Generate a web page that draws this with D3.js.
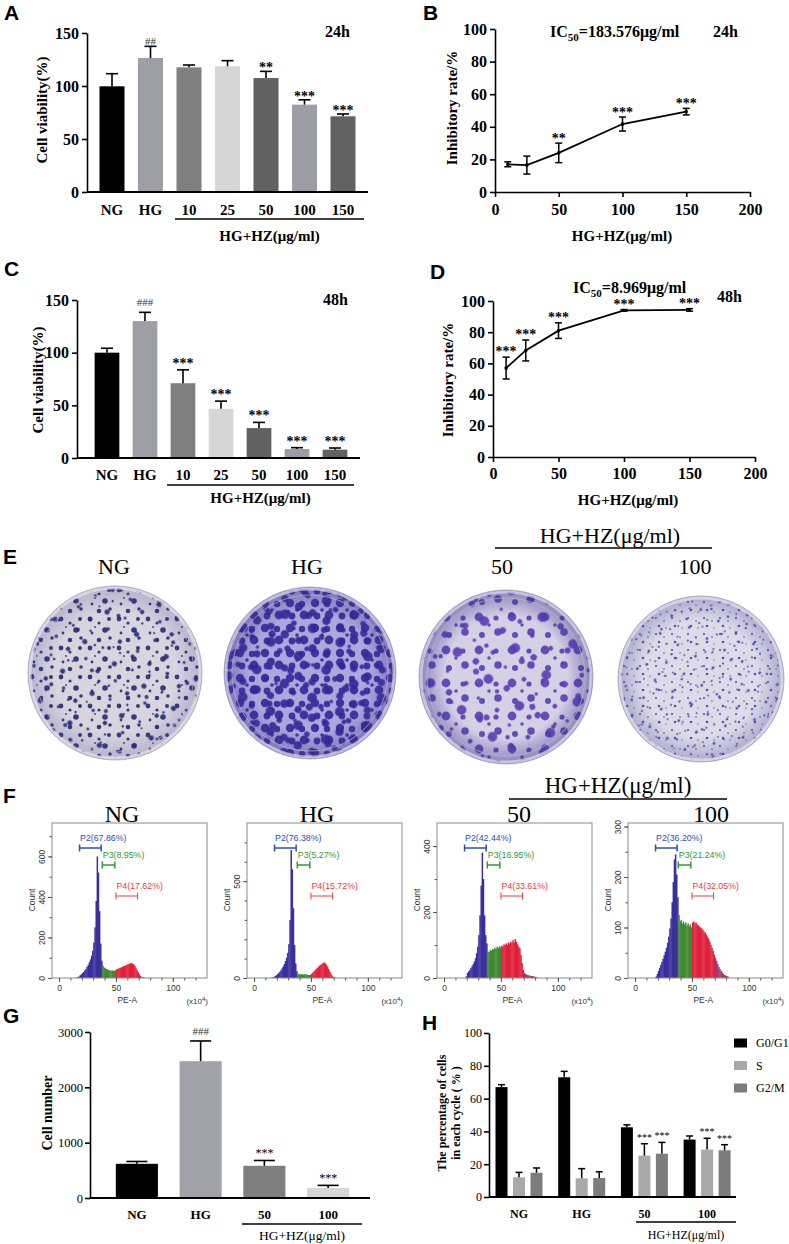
<!DOCTYPE html>
<html><head><meta charset="utf-8">
<script src="https://cdn.jsdelivr.net/npm/d3@7"></script>
<style>body{margin:0;background:#fff}svg{display:block}</style>
</head><body>
<svg id="c" width="789" height="1244"></svg>
<script>
// ---------------- DATA ----------------
const viabCats = ["NG","HG","10","25","50","100","150"];
const viab24 = [99.7,126.4,117.6,118.6,107.5,82.4,71.4];
const viab24Err = [11.9,11,2.2,5.3,6.3,4.6,2.2];
const viab24Sig = ["","##","","","**","***","***"];
const viab48 = [100,130,71,46.7,28.4,8.5,7.9];
const viab48Err = [4.2,8.3,12.7,7.3,5.4,1.3,1.6];
const viab48Sig = ["","###","***","***","***","***","***"];
const yTicksViab = [0,50,100,150];

const doses = [10,25,50,100,150];
const inhib24 = [17,16.5,24,41.7,49.3];
const inhib24Err = [1.5,5.5,6,4.3,2];
const inhib24Sig = ["","","**","***","***"];
const inhib48 = [57,68.3,81,94,94.3];
const inhib48Err = [7,6.7,5,0.5,0.8];
const inhib48Sig = ["***","***","***","***","***"];
const yTicksInhib = [0,20,40,60,80,100];
const xTicksDose = [0,50,100,150,200];

const dishTitles = ["NG","HG","50","100"];

const fcsTitles = ["NG","HG","50","100"];
const fcsBinStart = 14;
const fcsNG = [0,3,5,8,14,18,24,30,38,45,
  55,65,78,92,110,135,175,250,380,600,
  520,330,170,85,60,52,48,44,42,40,
  38,36,38,35,36,38,42,45,48,50,
  52,55,58,60,62,66,68,70,72,75,
  70,68,60,50,38,28,18,10,5,3,
  2,1,0,0,0,0,0,0,0,0,0,0];
const fcsHG = [0,2,4,6,10,14,19,25,32,40,
  50,60,72,88,105,130,175,300,660,560,
  360,170,75,35,22,20,18,20,19,18,
  20,19,17,16,15,17,22,28,34,40,
  46,52,58,64,68,72,78,80,76,68,
  58,46,34,22,12,6,3,1,0,0,
  0,0,0,0,0,0,0,0,0,0,0,0];
const fcs50 = [0,0,0,0,0,5,15,20,24,30,
  36,42,50,60,75,95,130,190,280,380,
  300,190,130,105,80,78,85,82,88,86,
  92,88,95,90,96,92,98,95,102,100,
  105,100,108,104,110,106,115,108,118,110,
  102,95,90,70,45,25,15,12,10,9,
  8,7,6,6,5,4,3,2,0,0,0,0];
const fcs100 = [0,0,0,0,3,8,14,20,26,32,
  38,45,52,60,70,82,98,118,150,190,
  235,245,205,160,125,112,115,108,112,106,
  110,104,108,102,106,100,110,112,108,110,
  106,104,102,100,98,95,92,90,86,82,
  78,72,66,60,54,46,40,34,28,22,
  18,14,11,8,6,5,4,3,0,0,0,0];
const fcsCounts = [fcsNG,fcsHG,fcs50,fcs100];
const fcsYmax = [765,800,470,307];
const fcsYMajor = [[0,200,400,600],[0,500],[0,200,400],[0,100,200,300]];
const fcsYMinorStep = [100,100,100,50];
const fcsXMajor = [0,50,100];
const gateNames = ["P2","P3","P4"];
const gateLo = [18,38,50];
const gateHi = [37,49,69];
const gatePct = [["67.86","76.38","42.44","36.20"],["8.95","5.27","16.95","21.24"],["17.62","15.72","33.61","32.05"]];

const gCats = ["NG","HG","50","100"];
const gVals = [618,2472,582,180];
const gErr = [42,366,96,48];
const gSig = ["","###","***","***"];
const gTicks = [0,1000,2000,3000];

const hGroups = ["NG","HG","50","100"];
const hSeries = ["G0/G1","S","G2/M"];
const hVals = [[67,73,42.5,35],[12,11.4,25.2,28.9],[14.8,11.6,26.4,28.5]];
const hErr = [[1.5,3.6,1.5,2.2],[3,5.9,7.3,6.9],[2.9,3.8,6.9,3.4]];
const hSig = [["","","",""],["","","***","***"],["","","***","***"]];
const hTicks = [0,20,40,60,80,100];

const groupLabel = "HG+HZ(μg/ml)";

// ---------------- STYLE ----------------
const serif = "'Liberation Serif','Times New Roman',Times,serif";
const sans = "'Liberation Sans',Arial,Helvetica,sans-serif";
const viabColors = ["#000000","#9e9ea6","#808080","#d6d6d6","#616161","#9d9da5","#626262"];
const gColors = ["#000000","#a1a1a9","#7f7f7f","#d6d6d6"];
const hColors = ["#000000","#a9a9a9","#7c7c7c"];
const gateColors = ["#2b4fb8","#2f9a3a","#ee3a3c"];

const svg = d3.select("#c");
svg.append("rect").attr("width",789).attr("height",1244).attr("fill","#fff");
const defs = svg.append("defs");

function txt(x,y,s,o={}){
  const t = svg.append("text").attr("x",x).attr("y",y).text(s)
    .attr("font-family",o.ff||serif).attr("font-size",o.fs||15)
    .attr("font-weight",o.fw||"normal").attr("text-anchor",o.anchor||"start")
    .attr("fill",o.fill||"#000");
  if(o.rot!=null) t.attr("transform",`rotate(${o.rot},${x},${y})`);
  return t;
}
function styleAxis(sel,fs,fw,sw){
  sel.attr("font-family",serif);
  sel.selectAll("text").attr("font-family",serif).attr("font-size",fs).attr("font-weight",fw).attr("fill","#000");
  sel.selectAll("line").attr("stroke","#000").attr("stroke-width",sw||1.6);
  sel.select(".domain").attr("stroke","#000").attr("stroke-width",sw||1.6);
}
function letter(t,x,y){ txt(x,y,t,{ff:sans,fw:"bold",fs:21}); }
function sigMark(x,errY,s,o){
  if(!s) return;
  if(s[0]==="#") txt(x,errY+o.hashB,s,{fs:o.hashFs||11,anchor:"middle",fill:"#333"});
  else txt(x,errY+o.starB,s,{fs:o.starFs||14,fw:o.starFw||"bold",anchor:"middle",fill:"#000"});
}

// ---------------- A / C ----------------
function viabChart(o){
  const x = d3.scaleBand().domain(viabCats).range(o.xr).paddingInner(0.35).paddingOuter(0.175);
  const y = d3.scaleLinear().domain([0,150]).range([o.y0,o.y150]);
  const bw = x.bandwidth();
  const g = svg.append("g");
  g.selectAll("rect").data(o.vals).join("rect")
    .attr("x",(d,i)=>x(viabCats[i])).attr("y",d=>y(d)).attr("width",bw)
    .attr("height",d=>y(0)-y(d)).attr("fill",(d,i)=>viabColors[i]);
  const cx = i=>x(viabCats[i])+bw/2;
  g.selectAll("line.eb").data(o.vals).join("line").attr("class","eb")
    .attr("x1",(d,i)=>cx(i)).attr("x2",(d,i)=>cx(i))
    .attr("y1",d=>y(d)).attr("y2",(d,i)=>y(d+o.errs[i])).attr("stroke","#000").attr("stroke-width",1.6);
  g.selectAll("line.cap").data(o.vals).join("line").attr("class","cap")
    .attr("x1",(d,i)=>cx(i)-6).attr("x2",(d,i)=>cx(i)+6)
    .attr("y1",(d,i)=>y(d+o.errs[i])).attr("y2",(d,i)=>y(d+o.errs[i])).attr("stroke","#000").attr("stroke-width",1.6);
  o.vals.forEach((d,i)=>sigMark(cx(i),y(d+o.errs[i]),o.sig[i],o));
  const ya = g.append("g").attr("transform",`translate(${o.ax},0)`)
    .call(d3.axisLeft(y).tickValues(yTicksViab).tickSize(5).tickSizeOuter(0).tickPadding(3));
  styleAxis(ya,16,"bold");
  const xa = g.append("g").attr("transform",`translate(0,${o.y0})`)
    .call(d3.axisBottom(x).tickSize(0).tickPadding(o.xpad));
  xa.select(".domain").remove();
  styleAxis(xa,15,"bold");
  g.append("line").attr("x1",o.ax).attr("x2",o.xEnd).attr("y1",o.y0).attr("y2",o.y0).attr("stroke","#000").attr("stroke-width",1.8);
  g.append("line").attr("x1",o.ul[0]).attr("x2",o.ul[1]).attr("y1",o.ulY).attr("y2",o.ulY).attr("stroke","#000").attr("stroke-width",1.5);
  txt((o.ul[0]+o.ul[1])/2,o.grpY,groupLabel,{fs:15,fw:"bold",anchor:"middle"});
  txt(o.title[0],o.title[1],"Cell viability(%)",{fs:15,fw:"bold",anchor:"middle",rot:-90});
  txt(o.time[0],o.time[1],o.timeText,{fs:16,fw:"bold"});
}
viabChart({vals:viab24,errs:viab24Err,sig:viab24Sig,xr:[92.75,362.25],y0:192,y150:33,ax:87,xEnd:368,
  ul:[175,364],ulY:219,grpY:241,xpad:12,starB:1,hashB:-1,title:[47,110],time:[325,37],timeText:"24h"});
viabChart({vals:viab48,errs:viab48Err,sig:viab48Sig,xr:[88,354],y0:458,y150:300,ax:77,xEnd:360,
  ul:[167,354],ulY:485,grpY:503,xpad:11,starB:-2,hashB:-6,title:[43,380],time:[323,305],timeText:"48h"});

// ---------------- B / D ----------------
function inhibChart(o){
  const x = d3.scaleLinear().domain([0,200]).range(o.xr);
  const y = d3.scaleLinear().domain([0,100]).range([o.y0,o.y100]);
  const g = svg.append("g");
  const ya = g.append("g").attr("transform",`translate(${o.xr[0]},0)`)
    .call(d3.axisLeft(y).tickValues(yTicksInhib).tickSize(5).tickSizeOuter(0).tickPadding(3));
  styleAxis(ya,16,"bold");
  const xa = g.append("g").attr("transform",`translate(0,${o.y0})`)
    .call(d3.axisBottom(x).tickValues(xTicksDose).tickSize(5).tickSizeOuter(0).tickPadding(o.xpad));
  styleAxis(xa,16,"bold");
  g.append("path").datum(o.vals).attr("fill","none").attr("stroke","#000").attr("stroke-width",1.8)
    .attr("d",d3.line().x((d,i)=>x(doses[i])).y(d=>y(d)));
  o.vals.forEach((d,i)=>{
    const px = x(doses[i]), lo=y(d-o.errs[i]), hi=y(d+o.errs[i]);
    g.append("line").attr("x1",px).attr("x2",px).attr("y1",lo).attr("y2",hi).attr("stroke","#000").attr("stroke-width",1.5);
    [lo,hi].forEach(yy=>g.append("line").attr("x1",px-3.5).attr("x2",px+3.5).attr("y1",yy).attr("y2",yy).attr("stroke","#000").attr("stroke-width",1.5));
    g.append("rect").attr("x",px-1.5).attr("y",y(d)-1.5).attr("width",3).attr("height",3).attr("fill","#000");
    sigMark(px,hi,o.sig[i],o);
  });
  txt(o.grpX,o.grpY,groupLabel,{fs:15,fw:"bold",anchor:"middle"});
  txt(o.title[0],o.title[1],"Inhibitory rate/%",{fs:15,fw:"bold",anchor:"middle",rot:-90});
  const ic = txt(o.ic[0],o.ic[1],"IC",{fs:16,fw:"bold"});
  ic.append("tspan").attr("font-size",11).attr("dy",4).text("50");
  ic.append("tspan").attr("dy",-4).text(o.icText);
  txt(o.time[0],o.time[1],o.timeText,{fs:16,fw:"bold"});
}
inhibChart({vals:inhib24,errs:inhib24Err,sig:inhib24Sig,xr:[495,750],y0:192,y100:29,xpad:7,
  grpX:622,grpY:241,title:[457,108],ic:[550,37],icText:"=183.576μg/ml",time:[713,37],timeText:"24h",starB:0,hashB:0});
inhibChart({vals:inhib48,errs:inhib48Err,sig:inhib48Sig,xr:[493,755],y0:457,y100:301,xpad:6,
  grpX:628,grpY:505,title:[453,380],ic:[573,293],icText:"=8.969μg/ml",time:[717,302],timeText:"48h",starB:-1,hashB:0});

letter("A",4,20); letter("B",423,20); letter("C",4,276); letter("D",430,279);

// ---------------- E (colony dishes) ----------------
const dishLayout = [{cx:115,cy:673,r:87},{cx:310,cy:673,r:86},{cx:506,cy:677,r:87},{cx:701,cy:679,r:83}];
const dishStyle = [
  {bg:"#d8d5de",col:"#262a74",vig:0.22,tiles:[
    {s:29,rot:0,dots:[[4,4,2.4],[13,8,1.6],[23,4,2],[19,15,2.8],[6,18,1.4],[24,23,1.8],[13,25,2.3],[9,12,0.9]]},
    {s:37,rot:37,dots:[[5,6,1.8],[22,9,2.2],[12,24,1.5],[31,30,2.6],[29,18,1.2]]},
    {s:43,rot:71,dots:[[10,10,1.3],[33,21,2.0],[18,36,1.1]]}]},
  {bg:"#aea7da",col:"#33279a",vig:0.45,tiles:[
    {s:25,rot:0,dots:[[5,5,4.2],[17,6,3.2],[19,17,4.4],[7,18,3.4],[12,12,1.8]]},
    {s:31,rot:27,dots:[[6,7,3.6],[22,8,4.2],[13,21,4.8],[25,25,2.8]]},
    {s:41,rot:63,dots:[[9,9,3.0],[30,16,3.6],[18,33,2.4],[35,35,1.8]]}]},
  {bg:"#d5d1e4",col:"#5a3cb6",vig:0.5,tiles:[
    {s:33,rot:0,dots:[[6,6,4.4],[23,7,2.6],[25,21,3.8],[9,24,3],[16,14,1.8]]},
    {s:41,rot:41,dots:[[8,8,3.2],[29,13,4.8],[15,31,2.4],[34,34,1.8]]},
    {s:47,rot:77,dots:[[12,12,2.2],[35,28,3.0]]}]},
  {bg:"#dddbe7",col:"#4e42aa",vig:0.3,tiles:[
    {s:16,rot:0,dots:[[3,3,1.1],[11,6,0.8],[6,11,1.3],[13,13,0.7]]},
    {s:21,rot:33,dots:[[4,5,1.4],[15,10,0.9],[10,17,1.1]]},
    {s:27,rot:68,dots:[[6,6,0.9],[20,18,1.2]]}]}
];
dishLayout.forEach((L,i)=>{
  const st = dishStyle[i];
  const g = svg.append("g");
  g.append("circle").attr("cx",L.cx).attr("cy",L.cy).attr("r",L.r).attr("fill",st.bg);
  st.tiles.forEach((t,k)=>{
    const id = `pat${i}_${k}`;
    const p = defs.append("pattern").attr("id",id).attr("patternUnits","userSpaceOnUse")
      .attr("width",t.s).attr("height",t.s).attr("patternTransform",`translate(${L.cx},${L.cy}) rotate(${t.rot})`);
    p.selectAll("circle").data(t.dots).join("circle").attr("cx",d=>d[0]).attr("cy",d=>d[1]).attr("r",d=>d[2]).attr("fill",st.col).attr("opacity",0.9);
    g.append("circle").attr("cx",L.cx).attr("cy",L.cy).attr("r",L.r-2).attr("fill",`url(#${id})`);
  });
  const gid = `vig${i}`;
  const rg = defs.append("radialGradient").attr("id",gid);
  rg.append("stop").attr("offset","0.7").attr("stop-color","#3c3290").attr("stop-opacity",0);
  rg.append("stop").attr("offset","1").attr("stop-color","#3c3290").attr("stop-opacity",st.vig);
  g.append("circle").attr("cx",L.cx).attr("cy",L.cy).attr("r",L.r).attr("fill",`url(#${gid})`);
  g.append("circle").attr("cx",L.cx).attr("cy",L.cy).attr("r",L.r-2).attr("fill","none").attr("stroke","#eeedf2").attr("stroke-width",3).attr("opacity",0.6);
  g.append("circle").attr("cx",L.cx).attr("cy",L.cy).attr("r",L.r-8).attr("fill","none").attr("stroke","#bcb8c8").attr("stroke-width",1).attr("opacity",0.7);
  g.append("circle").attr("cx",L.cx).attr("cy",L.cy).attr("r",L.r).attr("fill","none").attr("stroke","#a9a5b8").attr("stroke-width",0.8);
});
const eTitleX = [114,307,502,695];
dishTitles.forEach((t,i)=>txt(eTitleX[i],574,t,{fs:22,anchor:"middle"}));
svg.append("line").attr("x1",495).attr("x2",712).attr("y1",548).attr("y2",548).attr("stroke","#000").attr("stroke-width",1.4);
txt(610,543,groupLabel,{fs:22,anchor:"middle"});
letter("E",3,564);

// ---------------- F (flow cytometry) ----------------
const fcsL = {fx:[52,247,437,628],w:155,top:823,bottom:978,titleX:[122,317,519,711],gateY:[848,865,896]};
function binColor(b){ return b<18?"#d8283e": b<38?"#3a2f9c": b<50?"#3f8a30": b<70?"#e0213c":"#a8356e"; }
fcsCounts.forEach((counts,i)=>{
  const fx = fcsL.fx[i];
  const x = d3.scaleLinear().domain([-6.2,130]).range([fx,fx+fcsL.w]);
  const y = d3.scaleLinear().domain([0,fcsYmax[i]]).range([fcsL.bottom,fcsL.top]);
  const g = svg.append("g");
  const bw = x(1)-x(0);
  g.selectAll("rect.h").data(counts).join("rect").attr("class","h")
    .attr("x",(d,j)=>x(fcsBinStart+j)).attr("width",bw+0.35)
    .attr("y",d=>y(d)).attr("height",d=>fcsL.bottom-y(d))
    .attr("fill",(d,j)=>binColor(fcsBinStart+j));
  g.append("rect").attr("x",fx).attr("y",fcsL.top).attr("width",fcsL.w).attr("height",fcsL.bottom-fcsL.top)
    .attr("fill","none").attr("stroke","#8a8a8a").attr("stroke-width",1);
  const xMinor = g.append("g").attr("transform",`translate(0,${fcsL.bottom})`)
    .call(d3.axisBottom(x).tickValues(d3.range(0,121,10)).tickSize(2.5).tickFormat(""));
  const xMaj = g.append("g").attr("transform",`translate(0,${fcsL.bottom})`)
    .call(d3.axisBottom(x).tickValues(fcsXMajor).tickSize(4).tickPadding(3));
  [xMinor,xMaj].forEach(a=>{a.select(".domain").remove(); a.selectAll("line").attr("stroke","#555");
    a.selectAll("text").attr("font-family",sans).attr("font-size",8.5).attr("fill","#333");});
  const yMinor = g.append("g").attr("transform",`translate(${fx},0)`)
    .call(d3.axisLeft(y).tickValues(d3.range(0,fcsYmax[i],fcsYMinorStep[i])).tickSize(2.5).tickFormat(""));
  const yMaj = g.append("g").attr("transform",`translate(${fx},0)`)
    .call(d3.axisLeft(y).tickValues(fcsYMajor[i]).tickSize(4));
  [yMinor,yMaj].forEach(a=>{a.select(".domain").remove(); a.selectAll("line").attr("stroke","#555");});
  yMaj.selectAll("text").attr("font-family",sans).attr("font-size",8.5).attr("fill","#333")
    .attr("transform","rotate(-90)").attr("x",0).attr("y",-7).attr("dy","0").attr("text-anchor","middle");
  txt(fx-17,900,"Count",{ff:sans,fs:8.5,anchor:"middle",rot:-90,fill:"#333"});
  txt(x(60),1003,"PE-A",{ff:sans,fs:8.5,anchor:"middle",fill:"#333"});
  const u = txt(fx+fcsL.w+1,1004,"(x10",{ff:sans,fs:8,anchor:"end",fill:"#333"});
  u.append("tspan").attr("font-size",6).attr("dy",-3).text("4");
  u.append("tspan").attr("dy",3).text(")");
  gateNames.forEach((n,k)=>{
    const gy = fcsL.gateY[k], c = gateColors[k], sw = k<2?1.5:1;
    g.append("line").attr("x1",x(gateLo[k])).attr("x2",x(gateHi[k])).attr("y1",gy).attr("y2",gy).attr("stroke",c).attr("stroke-width",sw);
    [gateLo[k],gateHi[k]].forEach(v=>g.append("line").attr("x1",x(v)).attr("x2",x(v)).attr("y1",gy-3.5).attr("y2",gy+3.5).attr("stroke",c).attr("stroke-width",sw));
    txt(x(gateLo[k])+0.5,gy-7,`${n}(${gatePct[k][i]}%)`,{ff:sans,fs:8.8,fill:c});
  });
  txt(fcsL.titleX[i],822,fcsTitles[i],{fs:24,anchor:"middle"});
});
svg.append("line").attr("x1",509).attr("x2",727).attr("y1",799).attr("y2",799).attr("stroke","#000").attr("stroke-width",1.4);
txt(618,793,groupLabel,{fs:23,anchor:"middle"});
letter("F",3,803);

// ---------------- G ----------------
(function(){
  const x = d3.scaleBand().domain(gCats).range([105,360]).paddingInner(0.34).paddingOuter(0.17);
  const y = d3.scaleLinear().domain([0,3000]).range([1198,1032]);
  const bw = x.bandwidth();
  const g = svg.append("g");
  g.selectAll("rect").data(gVals).join("rect").attr("x",(d,i)=>x(gCats[i])).attr("y",d=>y(d))
    .attr("width",bw).attr("height",d=>y(0)-y(d)).attr("fill",(d,i)=>gColors[i]);
  gVals.forEach((d,i)=>{
    const cx = x(gCats[i])+bw/2, top = y(d+gErr[i]);
    g.append("line").attr("x1",cx).attr("x2",cx).attr("y1",y(d)).attr("y2",top).attr("stroke","#000").attr("stroke-width",1.6);
    g.append("line").attr("x1",cx-bw/4).attr("x2",cx+bw/4).attr("y1",top).attr("y2",top).attr("stroke","#000").attr("stroke-width",1.6);
    sigMark(cx,top,gSig[i],{starB:-3,hashB:-6,starFs:12,starFw:"normal",hashFs:11});
  });
  const ya = g.append("g").attr("transform","translate(90,0)")
    .call(d3.axisLeft(y).tickValues(gTicks).tickFormat(d3.format("d")).tickSize(5).tickSizeOuter(0).tickPadding(2));
  styleAxis(ya,12.5,"normal");
  const xa = g.append("g").attr("transform","translate(0,1198)").call(d3.axisBottom(x).tickSize(0).tickPadding(12));
  xa.select(".domain").remove(); styleAxis(xa,13,"bold");
  g.append("line").attr("x1",90).attr("x2",370).attr("y1",1198).attr("y2",1198).attr("stroke","#000").attr("stroke-width",1.8);
  g.append("line").attr("x1",242).attr("x2",362).attr("y1",1224).attr("y2",1224).attr("stroke","#000").attr("stroke-width",1.4);
  txt(302,1240,groupLabel,{fs:13.5,anchor:"middle"});
  txt(52,1113,"Cell number",{fs:14,fw:"bold",anchor:"middle",rot:-90});
})();
letter("G",3,1023);

// ---------------- H ----------------
(function(){
  const x0 = d3.scaleBand().domain(hGroups).range([487.65,738.45]).paddingInner(0.163).paddingOuter(0.0815);
  const x1 = d3.scaleBand().domain(hSeries).range([0,x0.bandwidth()]).paddingInner(0.314).paddingOuter(0.157);
  const y = d3.scaleLinear().domain([0,100]).range([1197,1033]);
  const bw = x1.bandwidth();
  const g = svg.append("g");
  hSeries.forEach((s,si)=>{
    hVals[si].forEach((d,gi)=>{
      const bx = x0(hGroups[gi])+x1(s), cx = bx+bw/2, top = y(d+hErr[si][gi]);
      g.append("rect").attr("x",bx).attr("y",y(d)).attr("width",bw).attr("height",y(0)-y(d)).attr("fill",hColors[si]);
      g.append("line").attr("x1",cx).attr("x2",cx).attr("y1",y(d)).attr("y2",top).attr("stroke","#000").attr("stroke-width",1.5);
      g.append("line").attr("x1",cx-3.5).attr("x2",cx+3.5).attr("y1",top).attr("y2",top).attr("stroke","#000").attr("stroke-width",1.5);
      sigMark(cx,top,hSig[si][gi],{starB:-3,starFs:10,starFw:"normal"});
    });
  });
  const ya = g.append("g").attr("transform","translate(489,0)")
    .call(d3.axisLeft(y).tickValues(hTicks).tickSize(5).tickSizeOuter(0).tickPadding(2));
  styleAxis(ya,12,"normal");
  const xa = g.append("g").attr("transform","translate(0,1197)").call(d3.axisBottom(x0).tickSize(0).tickPadding(12));
  xa.select(".domain").remove(); styleAxis(xa,12,"bold");
  g.append("line").attr("x1",489).attr("x2",736).attr("y1",1197).attr("y2",1197).attr("stroke","#000").attr("stroke-width",1.8);
  g.append("line").attr("x1",636).attr("x2",736).attr("y1",1222).attr("y2",1222).attr("stroke","#000").attr("stroke-width",1.4);
  txt(686,1239,groupLabel,{fs:12,anchor:"middle"});
  txt(446,1113,"The percentage of cells",{fs:12,fw:"bold",anchor:"middle",rot:-90});
  txt(460,1113,"in each cycle ( % )",{fs:12,fw:"bold",anchor:"middle",rot:-90});
  hSeries.forEach((s,si)=>{
    const ly = 1043+si*22.5;
    g.append("rect").attr("x",734).attr("y",ly-4.5).attr("width",13).attr("height",9).attr("fill",hColors[si]);
    txt(756,ly+4,s,{fs:12});
  });
})();
letter("H",422,1030);
</script>
</body></html>
